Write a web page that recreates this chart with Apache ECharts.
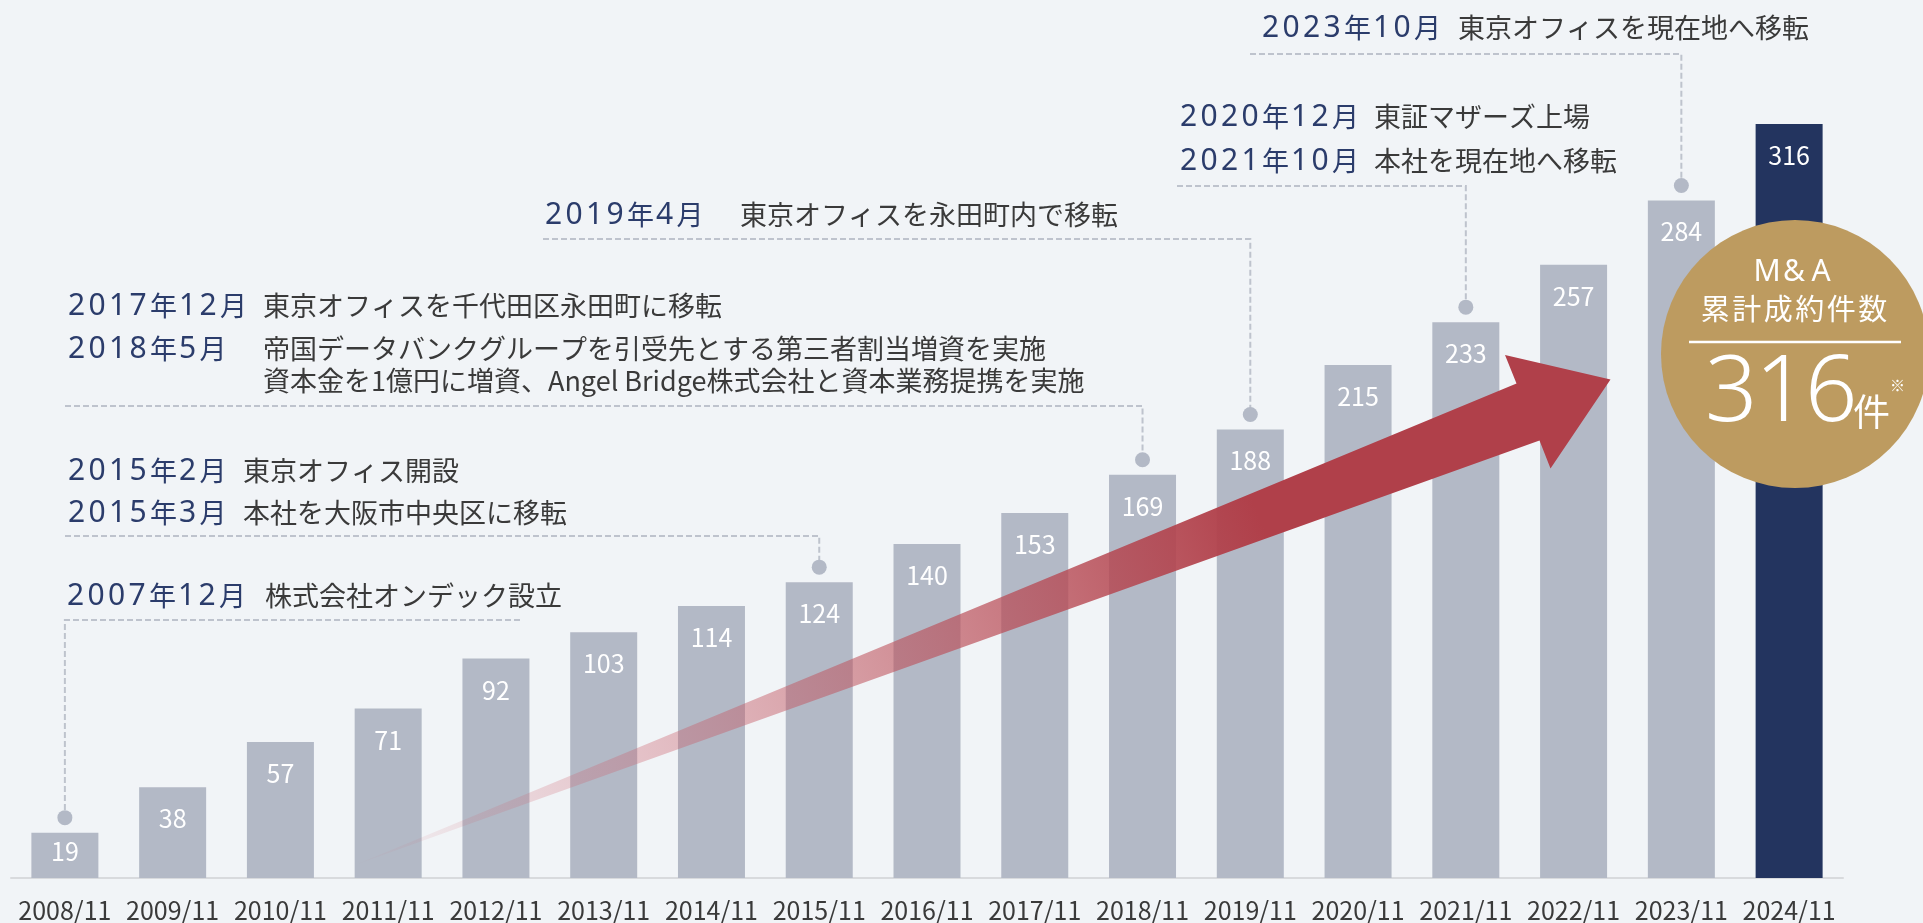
<!DOCTYPE html>
<html lang="ja">
<head>
<meta charset="UTF-8">
<title>M&A累計成約件数</title>
<script src="https://cdn.jsdelivr.net/npm/echarts@6/dist/echarts.min.js"></script>
<style>
    html, body { margin: 0; padding: 0; background: #f1f4f7; }
    #chart { width: 1923px; height: 923px; }
</style>
</head>
<body>
<div id="chart"></div>
<script>
    // 決算期ごとの累計成約件数
    var years = ['2008/11', '2009/11', '2010/11', '2011/11', '2012/11', '2013/11', '2014/11', '2015/11', '2016/11',
                 '2017/11', '2018/11', '2019/11', '2020/11', '2021/11', '2022/11', '2023/11', '2024/11'];
    var deals = [19, 38, 57, 71, 92, 103, 114, 124, 140, 153, 169, 188, 215, 233, 257, 284, 316];

    // 沿革の注記（どの棒につなぐか・日付・内容）
    var noteBars = ['2008/11', '2015/11', '2018/11', '2019/11', '2021/11', '2023/11'];
    var noteDates = [
        ['2007年12月'],
        ['2015年2月', '2015年3月'],
        ['2017年12月', '2018年5月', ''],
        ['2019年4月'],
        ['2020年12月', '2021年10月'],
        ['2023年10月']
    ];
    var noteTexts = [
        ['株式会社オンデック設立'],
        ['東京オフィス開設', '本社を大阪市中央区に移転'],
        ['東京オフィスを千代田区永田町に移転', '帝国データバンクグループを引受先とする第三者割当増資を実施', '資本金を1億円に増資、Angel Bridge株式会社と資本業務提携を実施'],
        ['東京オフィスを永田町内で移転'],
        ['東証マザーズ上場', '本社を現在地へ移転'],
        ['東京オフィスを現在地へ移転']
    ];
    var badgeLines = ['M&A', '累計成約件数'];
    var badgeUnit = '件';

    // 注記のレイアウト
    var noteLayout = [
        { x: 67, descX: 265, ys: [596], lineY: 620, lineFrom: 520 },
        { x: 68, descX: 243, ys: [471, 513], lineY: 536, lineFrom: 65 },
        { x: 68, descX: 263, ys: [306, 349, 381], lineY: 406, lineFrom: 65 },
        { x: 545, descX: 740, ys: [215], lineY: 239, lineFrom: 543 },
        { x: 1180, descX: 1374, ys: [117, 161], lineY: 186, lineFrom: 1177 },
        { x: 1262, descX: 1458, ys: [28], lineY: 54, lineFrom: 1250 }
    ];

    var JP = '"Noto Sans CJK JP", "Noto Sans", sans-serif';
    var LATIN = '"Noto Sans", "Noto Sans CJK JP", sans-serif';
    var NARROW = '"Liberation Sans Narrow", "Noto Sans CJK JP", sans-serif';
    var NAVY = '#2b3c6b';
    var BAR = '#b3b9c6';
    var BAR_LAST = '#23345f';
    var GOLD = '#bd9b60';

    var chart = echarts.init(document.getElementById('chart'));

    var barData = deals.map(function (v, i) {
        var item = { value: v };
        if (i === deals.length - 1) item.itemStyle = { color: BAR_LAST };
        if (i === 0) item.label = { distance: 6 };
        return item;
    });

    chart.setOption({
        backgroundColor: '#f1f4f7',
        animation: false,
        grid: { left: 11, right: 80, top: 43, bottom: 43 },
        xAxis: {
            type: 'category',
            data: years,
            axisLine: { lineStyle: { color: '#d8dadd', width: 2 } },
            axisTick: { show: false },
            axisLabel: { interval: 0, fontFamily: NARROW, fontSize: 25, color: '#3a3a3a', margin: 20 }
        },
        yAxis: { type: 'value', min: 0, max: 350, show: false, splitLine: { show: false } },
        series: [{
            type: 'bar',
            data: barData,
            barWidth: 67,
            itemStyle: { color: BAR },
            label: {
                show: true,
                position: 'insideTop',
                distance: 19,
                color: '#fff',
                fontFamily: NARROW,
                fontSize: 25
            }
        }]
    });

    // 1文字ずつ幅を固定して字間を再現する
    function spaced(s, digitKey, otherKey) {
        return s.split('').map(function (c) {
            return '{' + (/[0-9A-Za-z&]/.test(c) ? digitKey : otherKey) + '|' + c + '}';
        }).join('');
    }

    var graphics = [];

    noteBars.forEach(function (bar, g) {
        var idx = years.indexOf(bar);
        var top = chart.convertToPixel({ seriesIndex: 0 }, [idx, deals[idx]]);
        var lay = noteLayout[g];
        var dotY = top[1] - 15;

        graphics.push({
            type: 'polyline', z: 20,
            shape: { points: [[lay.lineFrom, lay.lineY], [top[0], lay.lineY], [top[0], dotY]] },
            style: { stroke: '#bec3cd', lineWidth: 2, lineDash: [6, 3], fill: null }
        });
        graphics.push({
            type: 'circle', z: 20,
            shape: { cx: top[0], cy: dotY, r: 7.5 },
            style: { fill: BAR }
        });

        noteDates[g].forEach(function (d, k) {
            var y = lay.ys[k];
            if (d) {
                graphics.push({
                    type: 'text', z: 20, x: lay.x, y: y,
                    style: {
                        text: spaced(d, 'n', 'k'),
                        verticalAlign: 'middle', align: 'left',
                        rich: {
                            n: { width: 20.5, fontSize: 30, fontFamily: LATIN, fill: NAVY },
                            k: { width: 29, fontSize: 27, fontFamily: JP, fill: NAVY }
                        }
                    }
                });
            }
            graphics.push({
                type: 'text', z: 20, x: lay.descX, y: y,
                style: {
                    text: noteTexts[g][k],
                    fontSize: 27, fontFamily: JP, fill: '#3a3a3a',
                    verticalAlign: 'middle', align: 'left'
                }
            });
        });
    });

    // 右上がりの矢印（装飾）
    graphics.push({
        type: 'polygon', z: 15,
        shape: { points: [[355, 865], [1516.5, 383.5], [1505, 355], [1610.5, 379.5], [1550.5, 468.5], [1539.5, 440.5]] },
        style: {
            fill: {
                type: 'linear', x: 355, y: 865, x2: 1610, y2: 379, global: true,
                colorStops: [
                    { offset: 0, color: 'rgba(205,95,108,0.02)' },
                    { offset: 0.2, color: 'rgba(205,95,108,0.3)' },
                    { offset: 0.4, color: 'rgba(190,80,90,0.55)' },
                    { offset: 0.72, color: 'rgba(176,64,74,1)' },
                    { offset: 1, color: 'rgba(176,64,74,1)' }
                ]
            }
        }
    });

    // 累計件数のバッジ
    var total = deals[deals.length - 1];
    graphics.push({ type: 'circle', z: 30, shape: { cx: 1795, cy: 354, r: 134 }, style: { fill: GOLD } });
    graphics.push({
        type: 'text', z: 31, x: 1794, y: 272,
        style: {
            text: spaced(badgeLines[0], 'a', 'a'), align: 'center', verticalAlign: 'middle',
            rich: { a: { width: 27, fontSize: 30, fontFamily: LATIN, fill: '#fff' } }
        }
    });
    graphics.push({
        type: 'text', z: 31, x: 1794, y: 309,
        style: {
            text: spaced(badgeLines[1], 'b', 'b'), align: 'center', verticalAlign: 'middle',
            rich: { b: { width: 31.5, fontSize: 29, fontFamily: JP, fill: '#fff' } }
        }
    });
    graphics.push({
        type: 'line', z: 31,
        shape: { x1: 1689, y1: 342, x2: 1901, y2: 342 },
        style: { stroke: '#fff', lineWidth: 2.5 }
    });
    graphics.push({
        type: 'text', z: 31, x: 1705, y: 395,
        style: {
            text: spaced(String(total), 'd', 'd'), align: 'left', verticalAlign: 'middle',
            rich: { d: { width: 50, fontSize: 92, fontWeight: 300, fontFamily: LATIN, fill: '#fff' } }
        }
    });
    graphics.push({
        type: 'text', z: 31, x: 1853, y: 412,
        style: { text: badgeUnit, align: 'left', verticalAlign: 'middle', fontSize: 37, fontFamily: JP, fill: '#fff' }
    });
    graphics.push({
        type: 'text', z: 31, x: 1890, y: 385,
        style: { text: '※', align: 'left', verticalAlign: 'middle', fontSize: 15, fontFamily: JP, fill: '#fff' }
    });

    chart.setOption({ graphic: graphics });
</script>
</body>
</html>
